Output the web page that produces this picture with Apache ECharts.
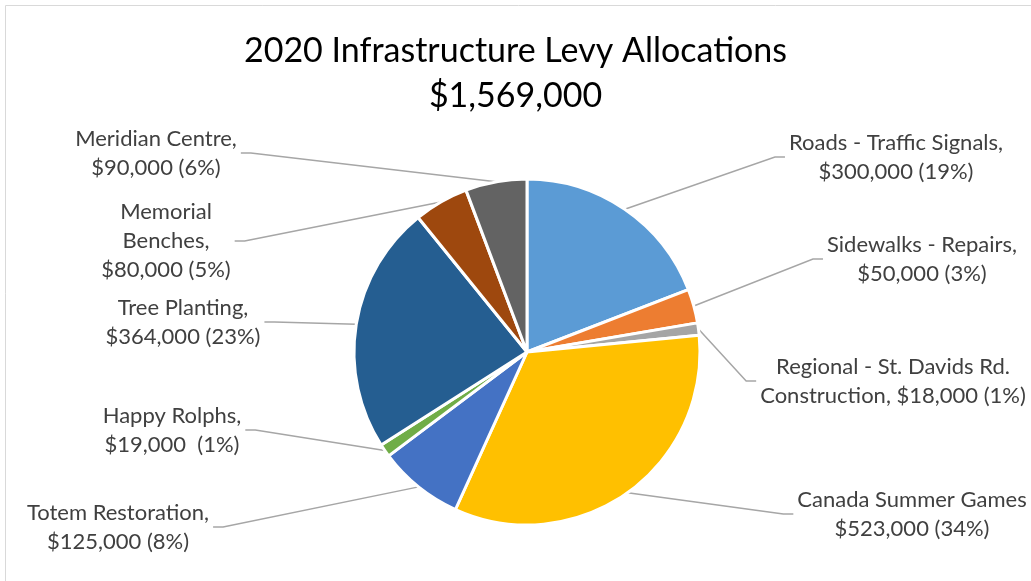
<!DOCTYPE html>
<html>
<head>
<meta charset="utf-8">
<script src="https://cdn.jsdelivr.net/npm/echarts@6/dist/echarts.min.js"></script>
<style>
  html, body { margin: 0; padding: 0; background: #fff; }
  #chart { width: 1031px; height: 581px; }
</style>
</head>
<body>
<div id="chart"></div>
<script>
// data
const categories = [
  'Roads - Traffic Signals',
  'Sidewalks - Repairs',
  'Regional - St. Davids Rd. Construction',
  'Canada Summer Games',
  'Totem Restoration',
  'Happy Rolphs',
  'Tree Planting',
  'Memorial Benches',
  'Meridian Centre'
];
const values = [300000, 50000, 18000, 523000, 125000, 19000, 364000, 80000, 90000];
const colors = ['#5b9bd5', '#ed7d31', '#a5a5a5', '#ffc000', '#4472c4', '#70ad47', '#255e91', '#9e480e', '#636363'];

// how each label is broken into lines ({n} name, {v} amount, {p} percent)
const labelFormats = [
  '{n},\n{v} ({p})',
  '{n},\n{v} ({p})',
  'Regional - St. Davids Rd.\nConstruction, {v} ({p})',
  '{n}\n{v} ({p})',
  '{n},\n{v} ({p})',
  '{n},\n{v}  ({p})',
  '{n},\n{v} ({p})',
  'Memorial\nBenches,\n{v} ({p})',
  '{n},\n{v} ({p})'
];
// label centres, picked by hand like the excel chart
const labelPos = [
  [896, 157], [922, 259], [893, 381], [912, 514], [118, 527],
  [172, 430], [183, 322], [166, 241], [156, 153]
];

const money = v => '$' + v.toLocaleString('en-US');
const total = values.reduce((a, b) => a + b, 0);

const chart = echarts.init(document.getElementById('chart'));

chart.setOption({
  animation: false,
  textStyle: { fontFamily: 'Lato' },
  title: {
    text: '2020 Infrastructure Levy Allocations\n' + money(total),
    left: 'center',
    top: 24,
    textStyle: {
      fontFamily: 'Lato',
      fontWeight: 'normal',
      fontSize: 34,
      lineHeight: 45,
      color: '#000'
    }
  },
  graphic: [{
    type: 'rect',
    shape: { x: 5.5, y: 5.5, width: 1200, height: 800 },
    style: { fill: 'none', stroke: '#d9d9d9', lineWidth: 1 },
    silent: true
  }],
  series: [{
    type: 'pie',
    center: [527, 352],
    radius: 173,
    startAngle: 90,
    clockwise: true,
    percentPrecision: 0,
    avoidLabelOverlap: false,
    itemStyle: { borderColor: '#fff', borderWidth: 3 },
    label: {
      show: true,
      position: 'outside',
      fontFamily: 'Lato',
      fontSize: 22,
      lineHeight: 29,
      color: '#404040',
      align: 'center',
      padding: [0, 4],
      formatter: p => labelFormats[p.dataIndex]
        .replace('{n}', p.name)
        .replace('{v}', money(p.value))
        .replace('{p}', p.percent + '%')
    },
    labelLine: {
      show: true,
      length: 10,
      length2: 10,
      lineStyle: { color: '#a6a6a6', width: 1.5 }
    },
    labelLayout: p => ({
      x: labelPos[p.dataIndex][0],
      y: labelPos[p.dataIndex][1],
      align: 'center',
      verticalAlign: 'middle'
    }),
    data: categories.map((c, i) => ({
      name: c,
      value: values[i],
      itemStyle: { color: colors[i] }
    }))
  }]
});
</script>
</body>
</html>
